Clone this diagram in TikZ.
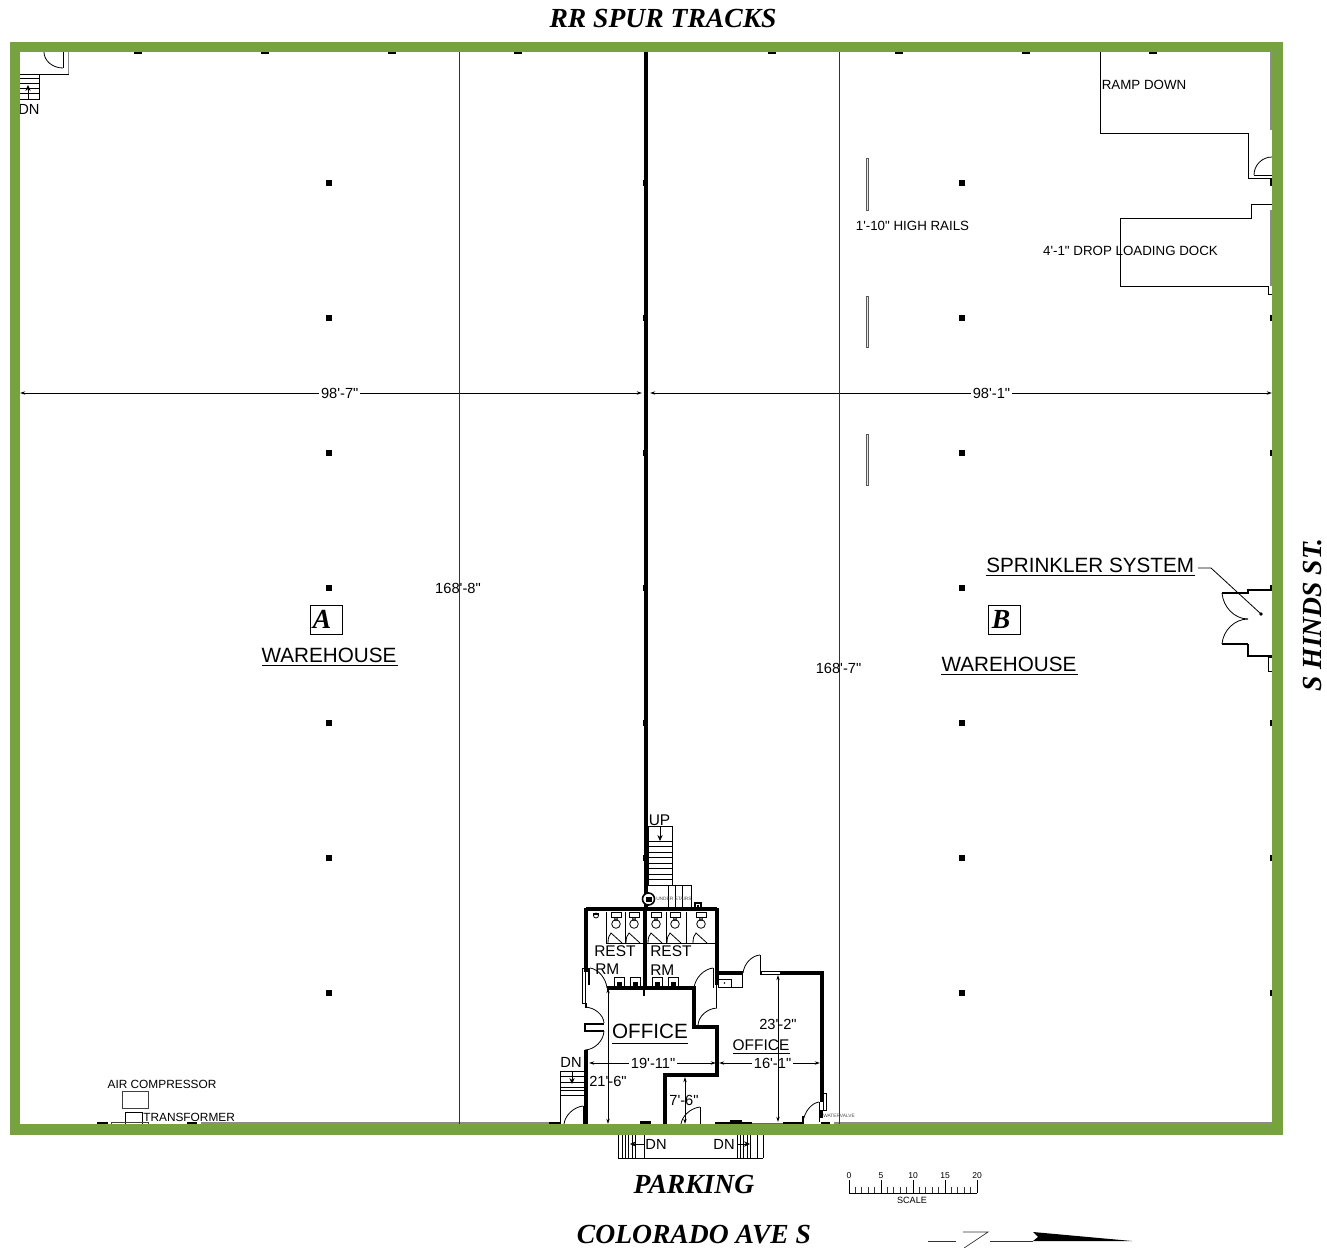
\documentclass[tikz,border=0pt]{standalone}
\usepackage{fontspec}
\setmainfont{Liberation Sans}
\newfontfamily\plainfont{Liberation Sans}
\newfontfamily\titlefont{Liberation Serif}
\usetikzlibrary{arrows.meta,calc}
\definecolor{borderGreen}{HTML}{76A23F}
\newcommand{\qarc}[3]{\draw[thinw] (#1) .. controls ($(#1)!0.55!(#2)$) and ($(#3)!0.55!(#2)$) .. (#3);}
\newcommand{\fsz}[1]{\plainfont\fontsize{#1}{#1}\selectfont}
\tikzset{
  thinw/.style={line width=0.6pt,black},
  hair/.style={line width=0.5pt,black!80},
  wall/.style={line width=2.4pt,black,line join=miter},
  midw/.style={line width=1.2pt,black},
  grayw/.style={line width=1pt,black!45},
  lbl/.style={inner sep=0pt,font=\fsz{10}},
  dimt/.style={inner sep=0pt,font=\fsz{11}},
  dimf/.style={dimt,fill=white,inner xsep=1.5pt,inner ysep=0.5pt},
  room/.style={inner sep=0pt,font=\fsz{15.5}},
  roomm/.style={inner sep=0pt,font=\fsz{11.6}},
  title/.style={inner sep=0pt,font=\titlefont\bfseries\itshape\fontsize{20.7}{20.7}\selectfont},
  tiny/.style={inner sep=0pt,font=\fsz{3.6},black!70},
  dimarrow/.style={thinw,{Stealth[length=4pt,width=2.5pt]}-{Stealth[length=4pt,width=2.5pt]}},
  headarrow/.style={thinw,-{Stealth[length=4.5pt,width=4pt]}},
  post/.style={fill=black,draw=none},
}
\begin{document}
\begin{tikzpicture}[x=0.75pt,y=-0.75pt]
\useasboundingbox (0,0) rectangle (1327,1248);
% columns and wall ticks
\foreach \yy in {183,318,453,588,723,858,993}{
  \fill[post] (326,\yy-3) rectangle (332,\yy+3);
  \fill[post] (958.5,\yy-3) rectangle (964.5,\yy+3);
  \fill[post] (642.5,\yy-3) rectangle (645,\yy+3);
  \fill[post] (1270,\yy-3) rectangle (1272,\yy+3);
}
\foreach \xx in {138,265,392,518,772,899,1026,1153}{
  \fill[post] (\xx-4,52) rectangle (\xx+4,54);
}
\foreach \xa/\xb in {97/108,187/197,278/288,368/378,549/560,910/920,1000/1010,1093/1102,1183/1192}{
  \fill[post] (\xa,1121.5) rectangle (\xb,1124);
}
% thin south and east lines
\draw[grayw] (201,1123) -- (549,1123);
\draw[grayw] (834,1123) -- (1272,1123);
\draw[grayw] (1271,52) -- (1271,130);
\draw[grayw] (1271,210) -- (1271,286);
% central wall
\draw[wall,line width=2.8pt] (646,52) -- (646,908);
% structural dimension lines
\coordinate (dimWl) at (20,393); \coordinate (dimWr) at (642,393);
\coordinate (dimEl) at (650,393); \coordinate (dimEr) at (1272,393);
\draw[dimarrow] (dimWl) -- node[dimf,pos=0.514] (d1) {98'-7"} (dimWr);
\draw[dimarrow] (dimEl) -- node[dimf,pos=0.549] (d2) {98'-1"} (dimEr);
\draw[thinw,draw=black!80] (459,52) -- (459,1124);
\draw[thinw,draw=black!80] (839.5,52) -- (839.5,1124);
\node[dimt] (d3) at (458,588) {168'-8"};
\node[dimt] (d4) at (838.5,668) {168'-7"};
% rails
\foreach \ya/\yb in {158/210,296/347,434/485}{
  \draw[thinw,draw=black!65,fill=black!10] (866,\ya) rectangle (868.5,\yb);
}
\node[lbl] (rails) at (912.5,225.5) {1'-10" HIGH RAILS};
% ramp and loading dock
\draw[thinw] (1100,52) -- (1100,133) -- (1248,133) -- (1248,178) -- (1272,178);
\qarc{1254,175}{1254,157}{1272,157}
\draw[thinw] (1254,175) -- (1272,175);
\fill[post] (1270,178) rectangle (1272,186);
\draw[thinw] (1272,204) -- (1251,204) -- (1251,218) -- (1120,218) -- (1120,286) -- (1268,286) -- (1268,294) -- (1272,294);
\node[lbl] (ramp) at (1144,85) {RAMP DOWN};
\node[lbl] (dock) at (1130.5,250.5) {4'-1" DROP LOADING DOCK};
% east doors
\draw[wall,line width=2pt] (1272,590) -- (1248,590) -- (1248,594);
\draw[midw] (1248,593) -- (1222,593);
\qarc{1222,593}{1224,619}{1248,619}
\qarc{1248,619}{1224,619}{1222,644}
\draw[midw] (1222,644) -- (1248,644);
\draw[wall,line width=2pt] (1248,644) -- (1248,656) -- (1272,656);
\draw[thinw] (1268.5,657) rectangle (1272,671);
\node[room,anchor=west] (spr) at (986,565) {SPRINKLER SYSTEM};
\draw[thinw] (986,575) -- (1195,575);
\coordinate (lead) at (1261,614);
\draw[thinw] (1198,568) -- (1211,568) -- (lead);
\fill (lead) circle (1.8);
% warehouse labels
\draw[thinw] (310,605) rectangle (342,634);
\node[title] (lblA) at (322,619) {A};
\node[room] (whA) at (329,655) {WAREHOUSE};
\draw[thinw] (262,665.5) -- (398,665.5);
\draw[thinw] (988,605) rectangle (1020,634);
\node[title] (lblB) at (1001,619) {B};
\node[room] (whB) at (1009,664) {WAREHOUSE};
\draw[thinw] (941,674.5) -- (1078,674.5);
% NW corner
\draw[grayw] (68.5,52) -- (68.5,74);
\draw[thinw] (63,52) -- (63,68);
\qarc{44,52}{44,68}{63,68}
\draw[thinw] (20,74) -- (69,74);
\draw[thinw] (39,74) -- (39,99) -- (20,99);
\foreach \yy in {78,83,88,93}{\draw[thinw] (20,\yy) -- (39,\yy);}
\draw[headarrow] (28,99) -- (28,85);
\node[dimt] (dnNW) at (29,109.5) {DN};
% SW equipment
\node[lbl,font=\fsz{8.9}] (air) at (162,1084) {AIR COMPRESSOR};
\draw[thinw,draw=black!75] (122,1091) rectangle (148.5,1108);
\draw[thinw] (125,1112) rectangle (142,1125);
\draw[thinw,draw=black!75] (111,1122) rectangle (148,1125);
\node[lbl,font=\fsz{8.9},anchor=west] (trf) at (143,1117) {TRANSFORMER};
% upper stairs
\draw[thinw] (648,826) rectangle (672,885);
\foreach \yy in {841,846.5,852,857.5,863,868.5,874,879.5}{\draw[thinw] (648,\yy) -- (672,\yy);}
\draw[headarrow] (660,827) -- (660,841);
\node[room,font=\fsz{11.6}] (up) at (659.5,820) {UP};
\draw[thinw] (668,885) rectangle (691,908);
\draw[thinw] (675,885) -- (675,908) (682,885) -- (682,908);
\draw[midw,fill=white] (648.5,899) circle (6);
\fill (645.5,896.5) rectangle (651.5,901.5);
\node[tiny,anchor=west] (under) at (656,899) {UNDER STAIRS};
\draw[midw,fill=white] (695,903) rectangle (701,909);
\fill (697,905) rectangle (699,907);
% restrooms walls
\draw[wall] (586,909) -- (717,909);
\draw[wall] (586,908) -- (586,972);
\draw[wall,line width=1.8pt] (589,968) -- (589,985);
\draw[wall] (645,909) -- (645,988);
\draw[wall] (607,988) -- (694,988) -- (694,1027) -- (717,1027) -- (717,1075) -- (665,1075) -- (665,1124);
\draw[wall] (717,908) -- (717,985);
\draw[thinw] (716.5,985) -- (716.5,1008);
\draw[thinw] (713,968) -- (713,988);
\draw[thinw] (582,968) rectangle (585,1003);
\draw[midw] (586,1003) -- (586,1008);
% restroom doors
\qarc{590,968}{605,970}{607,988}
\qarc{694,988}{696,970}{713,968}
\qarc{717,1008}{699,1009}{698,1025}
\qarc{585,1007}{603,1008}{604,1023}
\qarc{585,1050}{603,1049}{604,1031}
\draw[midw] (604,1024) -- (585,1024) -- (585,1031) -- (604,1031);
% west wall of office
\draw[wall] (586,1050) -- (586,1124);
\draw[thinw] (583.5,1106) -- (583.5,1124);
% fixtures
\draw[thinw] (606,943) -- (645,943) (645,943) -- (717,943);
\draw[thinw] (606,912) -- (606,943) (625,912) -- (625,943) (666,912) -- (666,943) (686,912) -- (686,943);
\foreach \xx in {616,634,656,675,701}{
  \draw[thinw,fill=white] (\xx-5,912) rectangle (\xx+5,917);
  \draw[thinw,fill=white] (\xx,924) circle (4.3);
  \draw[thinw] (\xx,919) circle (1.6);
  \draw[thinw] (\xx-8,943) .. controls (\xx-8,938) and (\xx-7,935) .. (\xx-5,933) -- (\xx+6,943);
}
\foreach \xx in {619.5,635,657,673}{
  \draw[thinw,fill=white] (\xx-5,977.5) rectangle (\xx+5,986);
  \fill (\xx-2.5,982) rectangle (\xx+2.5,986);
}
\draw[thinw] (596,915.5) circle (2.5);
\fill (593,913) rectangle (599,914.5);
\draw[thinw] (718,973) rectangle (742,987);
\draw[thinw] (718,979) rectangle (731,987);
\fill (724.5,983) circle (0.9);
\node[room,font=\fsz{11.6},anchor=west] (r1a) at (594,951) {REST};
\node[room,font=\fsz{11.6},anchor=west] (r1b) at (595,969) {RM};
\node[room,font=\fsz{11.6},anchor=west] (r2a) at (650,951) {REST};
\node[room,font=\fsz{11.6},anchor=west] (r2b) at (650,970) {RM};
% east office
\draw[wall] (717,973) -- (743,973);
\draw[thinw] (760,955) -- (760,973);
\qarc{743,973}{745,956}{760,955}
\draw[wall] (760,973) -- (762,973);
\draw[thinw] (762,971.5) -- (780,971.5) (762,974) -- (780,974);
\draw[wall] (780,973) -- (822,973) -- (822,1102);
\draw[thinw] (823,1093) rectangle (826,1110);
\draw[wall] (821.5,1110) -- (821.5,1118);
\draw[thinw] (819,1102) -- (819,1122);
\qarc{819,1102}{805,1104}{803,1122}
\draw[wall,line width=2pt] (803,1116) -- (803,1124);
\draw[wall,line width=2pt] (821,1123) -- (830,1123);
\node[tiny,anchor=west] (water) at (823,1116) {WATERVALVE};
\draw[wall,line width=1.6pt] (715,1123) -- (752,1123);
\draw[thinw,draw=black!60] (752,1123) -- (783,1123);
\draw[wall,line width=1.6pt] (783,1123) -- (803,1123);
\fill (730,1120) rectangle (742,1124);
% entry door
\draw[thinw] (700,1107) -- (700,1124);
\qarc{681,1124}{683,1109}{700,1107}
% west stairs
\draw[thinw] (560,1071) rectangle (585,1095);
\foreach \yy in {1076.5,1082,1087.5,1090}{\draw[thinw] (560,\yy) -- (585,\yy);}
\draw[thinw] (560,1095) -- (560,1124);
\draw[headarrow] (572,1071) -- (572,1084);
\qarc{564,1124}{566,1108}{583,1106}
\node[room,font=\fsz{11}] (dnW) at (571,1062) {DN};
\fill (640,1121) rectangle (651,1124);
% office labels and dims
\node[room] (off1) at (650,1031) {OFFICE};
\draw[thinw] (612,1043.5) -- (688,1043.5);
\node[roomm] (off2) at (761,1045) {OFFICE};
\draw[thinw] (733,1053.5) -- (790,1053.5);
\draw[dimarrow] (608,988) -- (608,1124);
\draw[dimarrow] (589,1063) -- node[dimf,pos=0.505] (d5) {19'-11"} (716,1063);
\draw[dimarrow] (719,1063) -- node[dimf,pos=0.53] (d6) {16'-1"} (820,1063);
\draw[dimarrow] (778,975) -- (778,1122);
\node[dimt] (d7) at (778,1024) {23'-2"};
\draw[dimarrow] (685,1077) -- (685,1124);
\node[dimt] (d8) at (684,1100.5) {7'-6"};
\node[dimt,anchor=west] (d9) at (589,1081) {21'-6"};
% front stairs
\foreach \xx in {618,622,625,628,632,635,644,737,740,743,747,750,757,763}{
  \draw[thinw] (\xx,1135) -- (\xx,1158);
}
\draw[thinw] (618,1158) -- (763,1158);
\coordinate (sl) at (644,1144); \coordinate (sr) at (737,1144);
\draw[headarrow] (sl) -- (630,1144);
\draw[headarrow] (sr) -- (750,1144);
\node[room,font=\fsz{11}] (dnL) at (656,1144) {DN};
\node[room,font=\fsz{11}] (dnR) at (724,1144) {DN};
% green border
\draw[borderGreen,line width=7.9pt,line join=miter] (15,47) rectangle (1277.5,1129.5);
% titles
\node[title] (t1) at (663,19) {RR SPUR TRACKS};
\node[title] (t2) at (694,1184) {PARKING};
\node[title] (t3) at (694,1235) {COLORADO AVE S};
\node[title,rotate=90] (t4) at (1313,615) {S HINDS ST.};
% scale
\draw[thinw] (849,1193) -- (977,1193);
\foreach \ii in {0,...,20}{\draw[hair] (849+6.4*\ii,1193) -- (849+6.4*\ii,1187);}
\foreach \ii/\lab in {0/0,1/5,2/10,3/15,4/20}{
  \draw[thinw] (849+32*\ii,1193) -- (849+32*\ii,1180);
  \node[inner sep=0pt,font=\fsz{6.4}] (sc\ii) at (849+32*\ii,1175.5) {\lab};
}
\node[inner sep=0pt,font=\fsz{6.8}] (sclab) at (912,1200) {SCALE};
% north arrow
\draw[hair] (928,1241) -- (956,1241);
\draw[hair] (963,1232) -- (988,1232) -- (964,1248);
\draw[hair] (990,1241) -- (1033,1241);
\fill (1033,1232) -- (1132,1241) -- (1033,1241) -- (1038,1237) -- cycle;
\end{tikzpicture}
\end{document}
